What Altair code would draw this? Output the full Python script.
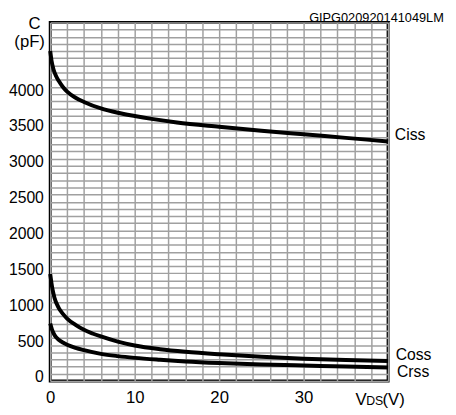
import altair as alt
import pandas as pd

# ---- data ----
ciss_v = [0, 0.15, 0.4, 0.7, 1, 1.5, 2, 3, 4, 6, 8, 10, 12, 15, 20, 25, 30, 35, 40]
ciss_c = [4600, 4470, 4340, 4250, 4185, 4100, 4035, 3950, 3890, 3800, 3740, 3695, 3655, 3605, 3545, 3490, 3440, 3390, 3340]

coss_v = [0, 0.25, 0.5, 1, 1.5, 2, 3, 4, 5, 6, 8, 10, 13, 16, 20, 25, 30, 35, 40]
coss_c = [1490, 1290, 1160, 1020, 935, 870, 782, 712, 662, 620, 548, 494, 442, 406, 371, 337, 309, 291, 278]

crss_v = [0, 0.2, 0.5, 1, 1.5, 2, 3, 4, 6, 8, 10, 13, 16, 20, 25, 30, 35, 40]
crss_c = [800, 720, 640, 575, 535, 505, 462, 430, 378, 346, 322, 295, 272, 250, 230, 215, 200, 188]

x_ticks = list(range(0, 41, 2))
y_ticks = list(range(0, 5001, 100))

curve_labels = ["Ciss", "Coss", "Crss"]
curve_label_v = [40.8, 40.9, 41.05]
curve_label_c = [3425, 365, 124]

unit_texts = ["V", "DS", "(V)"]
unit_v = [36.13, 37.41, 39.34]
unit_c = [-342, -342, -342]
unit_sizes = [17, 12.5, 17]

ytitle_texts = ["C", "(pF)"]
ytitle_v = [-1.86, -2.44]
ytitle_c = [4904, 4658]

code_text = ["GIPG020920141049LM"]
code_v = [46.6]
code_c = [5140]

FONT = "Liberation Sans"

rows = []
for name, vs, cs in [("Ciss", ciss_v, ciss_c), ("Coss", coss_v, coss_c), ("Crss", crss_v, crss_c)]:
    for v, c in zip(vs, cs):
        rows.append({"series": name, "V": v, "C": c})
df = pd.DataFrame(rows)

xscale = alt.Scale(domain=[0, 40], nice=False, zero=False)
yscale = alt.Scale(domain=[0, 5000], nice=False, zero=False)

xaxis = alt.Axis(
    values=x_ticks, format="d", title=None, ticks=False, domain=False,
    grid=True, gridColor="#a0a0a0", gridWidth=1.5,
    labelExpr="datum.value % 10 == 0 && datum.value < 40 ? datum.label : ''",
    labelFont=FONT, labelFontSize=17, labelColor="black", labelPadding=9,
    labelFlush=False, labelOverlap=False, labelBound=False,
)
yaxis = alt.Axis(
    values=y_ticks, format="d", title=None, ticks=False, domain=False,
    grid=True, gridColor="#a0a0a0", gridWidth=1.5,
    labelExpr="datum.value % 500 == 0 && datum.value <= 4000 ? datum.label : ''",
    labelFont=FONT, labelFontSize=16, labelColor="black", labelPadding=7,
    labelOffset=-4, labelFlush=False, labelOverlap=False, labelBound=False,
)

X = alt.X("V:Q", scale=xscale, axis=xaxis)
Y = alt.Y("C:Q", scale=yscale, axis=yaxis)

lines = alt.Chart(df).mark_line(
    interpolate="monotone", color="black", strokeWidth=4, strokeCap="butt"
).encode(x=X, y=Y, detail="series:N")

lab_df = pd.DataFrame({"t": curve_labels, "V": curve_label_v, "C": curve_label_c})
labels = alt.Chart(lab_df).mark_text(
    align="left", baseline="middle", font=FONT, fontSize=16, color="black"
).encode(x=X, y=Y, text="t:N")

unit_df = pd.DataFrame({"t": unit_texts, "V": unit_v, "C": unit_c, "s": unit_sizes})
units = alt.Chart(unit_df).mark_text(
    align="left", baseline="alphabetic", font=FONT, color="black"
).encode(x=X, y=Y, text="t:N", size=alt.Size("s:Q", scale=None, legend=None))

yt_df = pd.DataFrame({"t": ytitle_texts, "V": ytitle_v, "C": ytitle_c})
ytitle = alt.Chart(yt_df).mark_text(
    align="center", baseline="alphabetic", font=FONT, fontSize=17, color="black"
).encode(x=X, y=Y, text="t:N")

code_df = pd.DataFrame({"t": code_text, "V": code_v, "C": code_c})
code = alt.Chart(code_df).mark_text(
    align="right", baseline="top", font=FONT, fontSize=13, color="black"
).encode(x=X, y=Y, text="t:N")

chart = alt.layer(lines, labels, units, ytitle, code).properties(
    width=344, height=365,
    autosize=alt.AutoSizeParams(type="none"),
    padding={"left": 43, "top": 11, "right": 61, "bottom": 31},
    background="white",
).configure_view(stroke="black", strokeWidth=3)

chart.save("out.html", embed_options={"renderer": "svg", "actions": False})
